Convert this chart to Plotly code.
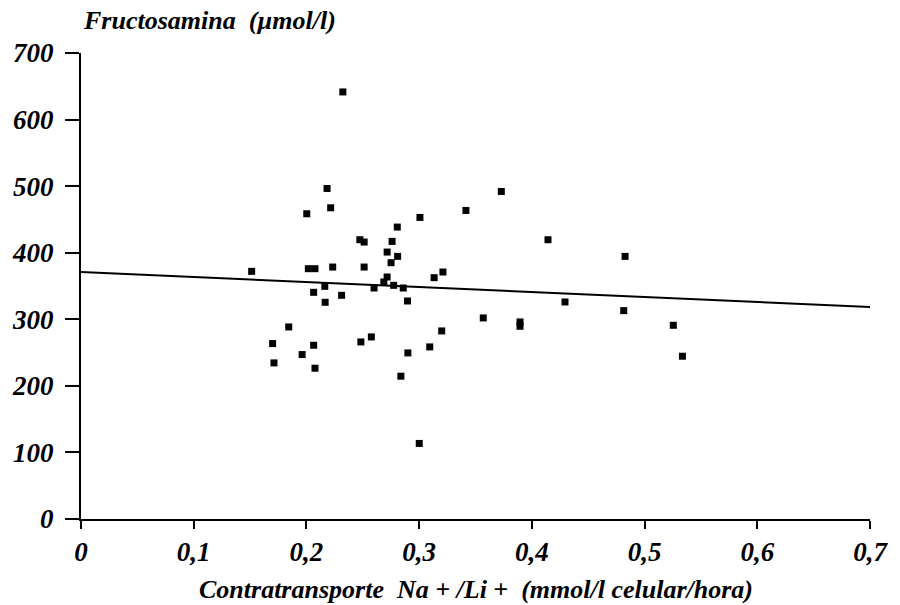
import plotly.graph_objects as go

# Contratransporte Na+/Li+ (mmol/l celular/hora)
x_vals = [0.2323, 0.2183, 0.2215, 0.2003, 0.2474, 0.2512, 0.2760, 0.2716, 0.2806, 0.2809,
          0.2751, 0.1514, 0.2017, 0.2076, 0.2233, 0.2512, 0.3729, 0.3415, 0.3007, 0.4143,
          0.3211, 0.3133, 0.2716, 0.2687, 0.2600, 0.2774, 0.2859, 0.2312, 0.2897, 0.4294,
          0.3569, 0.3895, 0.3895, 0.3200, 0.2483, 0.2576, 0.3094, 0.2900, 0.2163, 0.2064,
          0.2166, 0.1843, 0.1700, 0.2064, 0.1962, 0.1712, 0.2076, 0.2838, 0.3001, 0.4827,
          0.4815, 0.5255, 0.5336]
# Fructosamina (µmol/l)
y_vals = [641.5, 496.5, 467.5, 458.5, 419.5, 416.0, 417.0, 401.0, 438.5, 394.5,
          385.0, 372.0, 376.0, 376.0, 378.5, 378.5, 492.0, 463.5, 453.0, 419.5,
          371.0, 362.5, 363.5, 356.0, 347.0, 351.0, 347.0, 336.0, 327.5, 326.0,
          302.0, 296.0, 289.5, 282.5, 266.0, 273.5, 258.5, 249.5, 349.5, 340.5,
          325.5, 288.5, 263.5, 261.0, 247.0, 234.5, 226.5, 214.5, 113.5, 394.5,
          313.0, 291.0, 244.5]

# regression line endpoints
line_x = [0.0, 0.7]
line_y = [371.0, 318.5]

x_ticks = [0, 0.1, 0.2, 0.3, 0.4, 0.5, 0.6, 0.7]
x_tick_labels = ["0", "0,1", "0,2", "0,3", "0,4", "0,5", "0,6", "0,7"]
y_ticks = [0, 100, 200, 300, 400, 500, 600, 700]
y_tick_labels = ["0", "100", "200", "300", "400", "500", "600", "700"]

FONT = "Liberation Serif"

fig = go.Figure()
fig.add_trace(go.Scatter(x=line_x, y=line_y, mode="lines",
                         line=dict(color="black", width=2), showlegend=False,
                         hoverinfo="skip"))
fig.add_trace(go.Scatter(x=x_vals, y=y_vals, mode="markers",
                         marker=dict(symbol="square", size=7, color="black",
                                     line=dict(width=0)),
                         showlegend=False))

tickfont = dict(family=FONT, size=27, color="black", weight="bold", style="italic")

fig.update_layout(
    width=900, height=605,
    margin=dict(l=79, r=20, t=53, b=86, pad=0),
    paper_bgcolor="white", plot_bgcolor="white",
    xaxis=dict(range=[0, 0.7], tickvals=x_ticks, ticktext=x_tick_labels,
               showgrid=False, zeroline=False, showline=True, linecolor="black",
               linewidth=2, ticks="outside", ticklen=8, tickwidth=1.5,
               tickcolor="black", tickfont=tickfont, ticklabelstandoff=0),
    yaxis=dict(range=[0, 700], tickvals=y_ticks, ticktext=y_tick_labels,
               showgrid=False, zeroline=False, showline=True, linecolor="black",
               linewidth=2, ticks="outside", ticklen=14, tickwidth=1.5,
               tickcolor="black", tickfont=tickfont, ticklabelstandoff=6),
    annotations=[
        dict(text="<b><i>Fructosamina  (µmol/l)</i></b>", xref="paper", yref="paper",
             x=0, y=1 + (53 - 20) / 466, xanchor="left", yanchor="middle",
             showarrow=False, font=dict(family=FONT, size=26, color="black")),
        dict(text="<b><i>Contratransporte  Na + /Li +  (mmol/l celular/hora)</i></b>",
             xref="paper", yref="paper", x=0.5, y=-(589 - 519) / 466,
             xanchor="center", yanchor="middle", showarrow=False,
             font=dict(family=FONT, size=26, color="black")),
    ],
)

fig.write_html("out.html")
